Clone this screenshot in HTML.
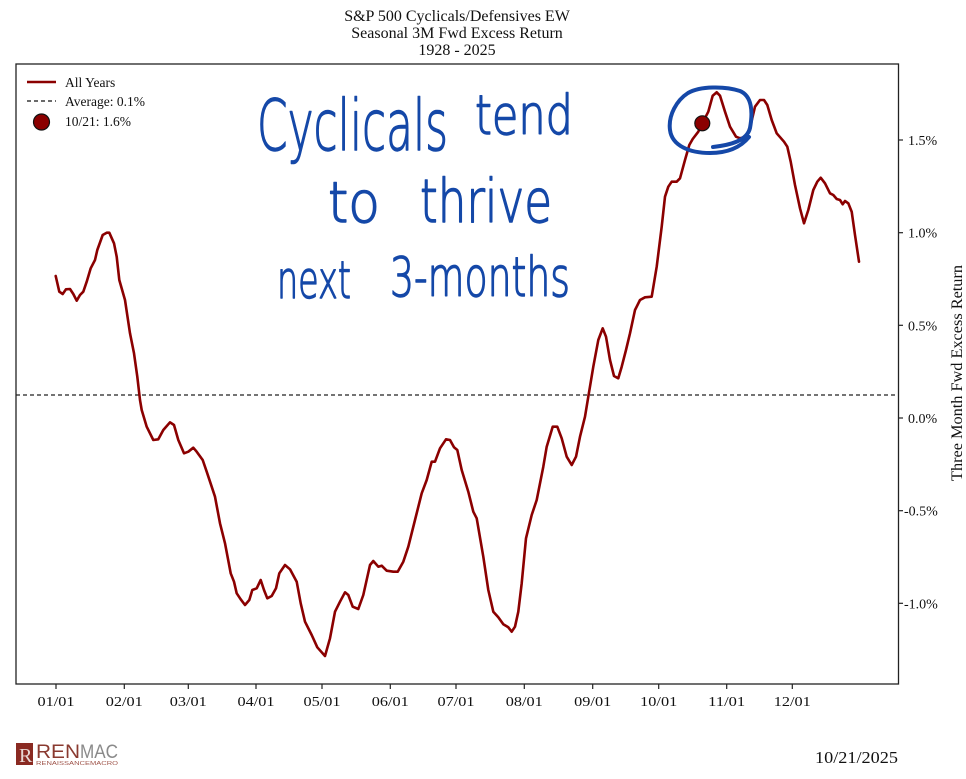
<!DOCTYPE html>
<html>
<head>
<meta charset="utf-8">
<style>
html,body{margin:0;padding:0;background:#fff;}
svg{display:block;}
</style>
</head>
<body>
<svg width="966" height="779" viewBox="0 0 966 779" xmlns="http://www.w3.org/2000/svg">
  <rect x="0" y="0" width="966" height="779" fill="#fff"/>

  <!-- Title -->
  <g font-family="'Liberation Serif', serif" font-size="16" fill="#111" text-anchor="middle">
    <text x="457" y="21">S&amp;P 500 Cyclicals/Defensives EW</text>
    <text x="457" y="38">Seasonal 3M Fwd Excess Return</text>
    <text x="457" y="55">1928 - 2025</text>
  </g>

  <!-- Average dashed line -->
  <line x1="16" y1="395" x2="898" y2="395" stroke="#222" stroke-width="1.2" stroke-dasharray="4,3"/>

  <!-- Series -->
  <polyline fill="none" stroke="#8b0000" stroke-width="2.6" stroke-linejoin="round" stroke-linecap="round"
    points="55.7,276 59.3,291.7 62.7,294 66,289.3 70,289 73.3,294 76.7,300.7 80,295 83.3,291.7 86.7,281.7 90.7,268.3 95,260 97.3,250 102.7,235 106.7,232.7 109.3,232.7 114,243.3 116.7,256.7 119.3,280 125,300 130,333.3 134,353.3 137.3,376.7 140,400 141.7,410 146.7,426.7 153.3,440 158.3,439.3 163.3,430 170,422.3 174,425 178.3,440 184,453.3 188.3,451.7 193.3,447.7 196.7,451.7 202.7,460 206.7,471.7 211.7,486.7 215,496.7 220,523.3 225,543.3 230.7,573.3 234,581.7 236.7,593.3 240.7,599.3 245,605 249.3,600 252.3,590 256.7,588.3 260.7,580 264,590 267.3,598.3 271.7,596 276,588.3 279.3,573.3 285,565 290,569.3 296.7,581.7 300.7,603.3 305,621.7 311.7,635 317.3,647.3 325,656 330,638.3 335,611.7 340,601.7 345,592.3 348.3,595 352.7,606.7 358.3,609 363.3,595 370,565 373.3,561 378.3,566.7 381.7,565.7 386.7,570.7 393.3,571.7 397.7,571.7 403.3,561.7 408.3,546.7 415,520 421.7,493.3 426.7,480 431.7,461.7 435,461.7 440,448.3 446,439.3 450,440 454,447.3 457.3,450 461.7,470 468.3,491.7 473.3,511.7 476.7,518.3 483.3,556.7 488.3,590 493.3,611.7 498.3,617.3 503.3,624.3 508.3,627.3 511.7,631.7 515,626.7 518.3,611.7 521.7,583.3 526,538.3 531.7,515 536.7,500 543.3,466.7 546.7,446.7 552.7,426.7 557.3,426.7 561.7,438.3 566.7,456.7 571.7,465 576,456.7 580,436.7 585,416.7 588.3,396.7 593.3,366.7 598.3,340 602.7,328.3 606,336.7 610,360 614,376 618.3,378.3 621.7,366.7 626,350 630,333.3 635,310 640,300 645,297.3 651.7,296.7 656.7,266.7 661.7,226.7 665,196.7 668.3,186.7 671.7,181.7 676.7,181.7 680,178.3 685,160 689.3,145 692.7,139 698.3,131.7 702.3,123.3 708.3,111.7 712.7,95.7 716.7,92.3 720,95.7 725,111.7 730,126.7 736,136.7 740,138.3 746,136.7 750.7,125 755,106.7 760,100 764,100 767.3,105 771.7,120 776.7,133.3 784,141.7 787.3,146.7 790.7,161.7 795,185 800,208.3 804,223.3 808.3,210 813.3,190 817.3,181.7 820.7,177.7 825,183.3 830,193.3 833.3,195 836.7,199 840,200 842.7,204.3 845,201 848.3,203.3 851.7,211.7 855,235 859,261.7"/>

  <!-- Current point -->
  <circle cx="702.3" cy="123.3" r="7.5" fill="#8b0000" stroke="#111" stroke-width="1.2"/>

  <!-- Plot frame -->
  <rect x="16" y="64" width="882.5" height="620" fill="none" stroke="#222" stroke-width="1.3"/>

  <!-- X ticks -->
  <g stroke="#222" stroke-width="1.2">
    <line x1="56" y1="684" x2="56" y2="689"/>
    <line x1="124.3" y1="684" x2="124.3" y2="689"/>
    <line x1="188.3" y1="684" x2="188.3" y2="689"/>
    <line x1="256" y1="684" x2="256" y2="689"/>
    <line x1="322" y1="684" x2="322" y2="689"/>
    <line x1="390.3" y1="684" x2="390.3" y2="689"/>
    <line x1="456" y1="684" x2="456" y2="689"/>
    <line x1="524.3" y1="684" x2="524.3" y2="689"/>
    <line x1="592.7" y1="684" x2="592.7" y2="689"/>
    <line x1="658.7" y1="684" x2="658.7" y2="689"/>
    <line x1="726.7" y1="684" x2="726.7" y2="689"/>
    <line x1="792.3" y1="684" x2="792.3" y2="689"/>
  </g>
  <g font-family="'Liberation Serif', serif" font-size="14" fill="#111" text-anchor="middle">
    <text x="56" y="706" textLength="37" lengthAdjust="spacingAndGlyphs">01/01</text>
    <text x="124.3" y="706" textLength="37" lengthAdjust="spacingAndGlyphs">02/01</text>
    <text x="188.3" y="706" textLength="37" lengthAdjust="spacingAndGlyphs">03/01</text>
    <text x="256" y="706" textLength="37" lengthAdjust="spacingAndGlyphs">04/01</text>
    <text x="322" y="706" textLength="37" lengthAdjust="spacingAndGlyphs">05/01</text>
    <text x="390.3" y="706" textLength="37" lengthAdjust="spacingAndGlyphs">06/01</text>
    <text x="456" y="706" textLength="37" lengthAdjust="spacingAndGlyphs">07/01</text>
    <text x="524.3" y="706" textLength="37" lengthAdjust="spacingAndGlyphs">08/01</text>
    <text x="592.7" y="706" textLength="37" lengthAdjust="spacingAndGlyphs">09/01</text>
    <text x="658.7" y="706" textLength="37" lengthAdjust="spacingAndGlyphs">10/01</text>
    <text x="726.7" y="706" textLength="37" lengthAdjust="spacingAndGlyphs">11/01</text>
    <text x="792.3" y="706" textLength="37" lengthAdjust="spacingAndGlyphs">12/01</text>
  </g>

  <!-- Y ticks (right) -->
  <g stroke="#222" stroke-width="1.2">
    <line x1="898" y1="140" x2="903" y2="140"/>
    <line x1="898" y1="232.7" x2="903" y2="232.7"/>
    <line x1="898" y1="325.3" x2="903" y2="325.3"/>
    <line x1="898" y1="418" x2="903" y2="418"/>
    <line x1="898" y1="510.7" x2="903" y2="510.7"/>
    <line x1="898" y1="603.3" x2="903" y2="603.3"/>
  </g>
  <g font-family="'Liberation Serif', serif" font-size="14" fill="#111">
    <text x="908" y="145">1.5%</text>
    <text x="908" y="237.7">1.0%</text>
    <text x="908" y="330.3">0.5%</text>
    <text x="908" y="423">0.0%</text>
    <text x="904" y="515.7">-0.5%</text>
    <text x="904" y="608.3">-1.0%</text>
  </g>
  <text transform="translate(962,373) rotate(-90)" font-family="'Liberation Serif', serif" font-size="16" fill="#111" text-anchor="middle" textLength="216" lengthAdjust="spacingAndGlyphs">Three Month Fwd Excess Return</text>

  <!-- Legend -->
  <line x1="27" y1="82" x2="56" y2="82" stroke="#8b0000" stroke-width="2.6"/>
  <line x1="27" y1="101" x2="56" y2="101" stroke="#111" stroke-width="1.2" stroke-dasharray="4,3"/>
  <circle cx="41.5" cy="122" r="8" fill="#8b0000" stroke="#111" stroke-width="1.2"/>
  <g font-family="'Liberation Serif', serif" font-size="13.5" fill="#111">
    <text x="65" y="87">All Years</text>
    <text x="65" y="106">Average: 0.1%</text>
    <text x="65" y="126">10/21: 1.6%</text>
  </g>

  <!-- Handwritten annotation -->
  <g font-family="'DejaVu Sans', 'Liberation Sans', sans-serif" font-weight="200" fill="#1548a8" stroke="#1548a8" stroke-width="1.4" stroke-linejoin="round">
    <text x="257" y="150" font-size="70" textLength="191" lengthAdjust="spacingAndGlyphs">Cyclicals</text>
    <text x="475" y="134" font-size="54" textLength="98" lengthAdjust="spacingAndGlyphs">tend</text>
    <text x="328" y="222" font-size="56" textLength="52" lengthAdjust="spacingAndGlyphs">to</text>
    <text x="420" y="222" font-size="60" textLength="132" lengthAdjust="spacingAndGlyphs">thrive</text>
    <text x="277" y="298" font-size="52" textLength="74" lengthAdjust="spacingAndGlyphs">next</text>
    <text x="390" y="296" font-size="54" textLength="180" lengthAdjust="spacingAndGlyphs">3-months</text>
  </g>
  <path d="M 713,147 C 730,145 747,141 750,128 C 753,112 752,96 740,91 C 725,86 700,86 688,93 C 677,100 668,115 670,130 C 672,146 690,153 710,153 C 726,153 740,148 749,137" fill="none" stroke="#1548a8" stroke-width="4" stroke-linecap="round"/>

  <!-- Footer logo -->
  <rect x="16" y="743" width="17" height="22" fill="#8a2a22"/>
  <text x="19" y="762" font-family="'Liberation Serif', serif" font-size="20" fill="#e8d8d4">R</text>
  <text x="36" y="758" font-family="'Liberation Sans', sans-serif" font-size="19" fill="#8a3a30" textLength="44" lengthAdjust="spacingAndGlyphs">REN</text>
  <text x="80" y="758" font-family="'Liberation Sans', sans-serif" font-size="19" fill="#8a8a8a" textLength="38" lengthAdjust="spacingAndGlyphs">MAC</text>
  <text x="36" y="765" font-family="'Liberation Sans', sans-serif" font-size="5.5" fill="#a0564c" textLength="82" lengthAdjust="spacingAndGlyphs">RENAISSANCEMACRO</text>

  <!-- Date -->
  <text x="898" y="763" font-family="'Liberation Serif', serif" font-size="17" fill="#111" text-anchor="end" textLength="83" lengthAdjust="spacingAndGlyphs">10/21/2025</text>
</svg>
</body>
</html>
